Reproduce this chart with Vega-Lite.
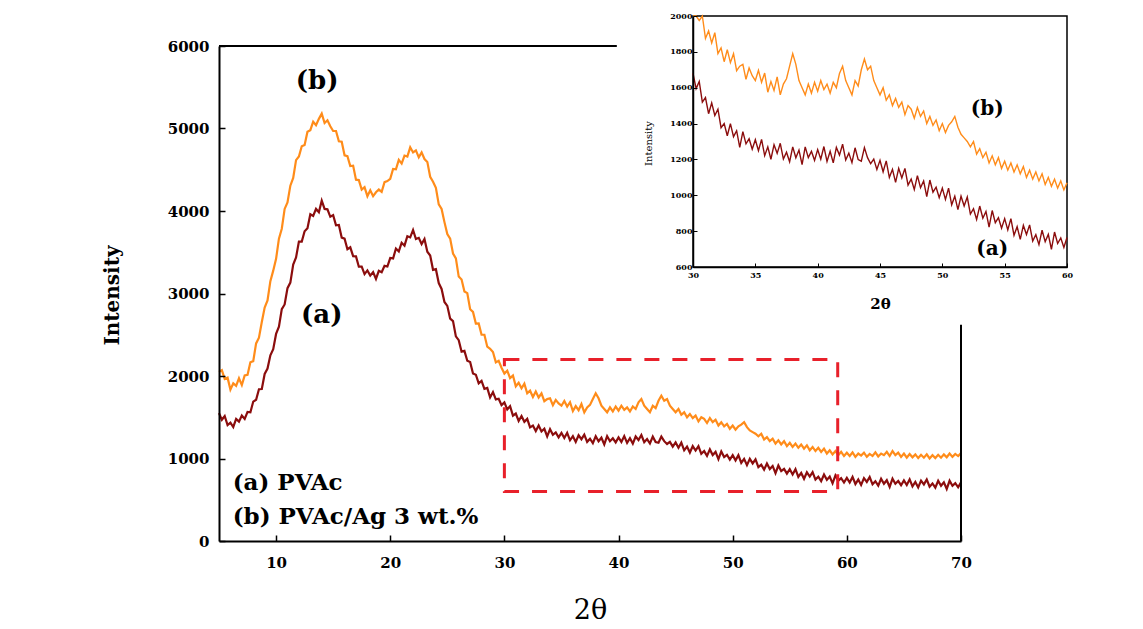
{
  "$schema": "https://vega.github.io/schema/vega-lite/v6.json",
  "width": 742,
  "height": 495,
  "autosize": {"type": "none"},
  "padding": {"left": 219, "top": 46, "right": 182, "bottom": 88},
  "background": "white",
  "config": {"view": {"stroke": null}, "font": "DejaVu Serif", "axis": {"grid": false, "labelOverlap": false, "labelFlush": false}},
  "datasets": {
    "xrd": [
      {"t":5,"a":1550,"b":2050},{"t":5.25,"a":1470,"b":2070},{"t":5.5,"a":1515,"b":1965},{"t":5.75,"a":1405,"b":1980},
      {"t":6,"a":1435,"b":1835},{"t":6.25,"a":1382,"b":1912},{"t":6.5,"a":1480,"b":1880},{"t":6.75,"a":1447,"b":1972},
      {"t":7,"a":1520,"b":1890},{"t":7.25,"a":1480,"b":2007},{"t":7.5,"a":1565,"b":2015},{"t":7.75,"a":1560,"b":2167},
      {"t":8,"a":1690,"b":2180},{"t":8.25,"a":1712,"b":2395},{"t":8.5,"a":1840,"b":2465},{"t":8.75,"a":1842,"b":2655},
      {"t":9,"a":2025,"b":2830},{"t":9.25,"a":2090,"b":2917},{"t":9.5,"a":2250,"b":3150},{"t":9.75,"a":2325,"b":3277},
      {"t":10,"a":2510,"b":3420},{"t":10.25,"a":2597,"b":3665},{"t":10.5,"a":2810,"b":3785},{"t":10.75,"a":2867,"b":4025},
      {"t":11,"a":3065,"b":4105},{"t":11.25,"a":3132,"b":4307},{"t":11.5,"a":3350,"b":4400},{"t":11.75,"a":3437,"b":4617},
      {"t":12,"a":3630,"b":4660},{"t":12.25,"a":3630,"b":4785},{"t":12.5,"a":3755,"b":4800},{"t":12.75,"a":3790,"b":4960},
      {"t":13,"a":3960,"b":4980},{"t":13.25,"a":3940,"b":5082},{"t":13.5,"a":4025,"b":5040},{"t":13.75,"a":3985,"b":5117},
      {"t":14,"a":4125,"b":5180},{"t":14.25,"a":4025,"b":5067},{"t":14.5,"a":4020,"b":5100},{"t":14.75,"a":3930,"b":5027},
      {"t":15,"a":3950,"b":4970},{"t":15.25,"a":3827,"b":4970},{"t":15.5,"a":3830,"b":4845},{"t":15.75,"a":3677,"b":4840},
      {"t":16,"a":3665,"b":4675},{"t":16.25,"a":3537,"b":4665},{"t":16.5,"a":3560,"b":4545},{"t":16.75,"a":3452,"b":4550},
      {"t":17,"a":3450,"b":4380},{"t":17.25,"a":3325,"b":4375},{"t":17.5,"a":3325,"b":4260},{"t":17.75,"a":3235,"b":4290},
      {"t":18,"a":3280,"b":4180},{"t":18.25,"a":3217,"b":4252},{"t":18.5,"a":3260,"b":4180},{"t":18.75,"a":3177,"b":4227},
      {"t":19,"a":3275,"b":4260},{"t":19.25,"a":3257,"b":4232},{"t":19.5,"a":3335,"b":4350},{"t":19.75,"a":3327,"b":4362},
      {"t":20,"a":3430,"b":4390},{"t":20.25,"a":3425,"b":4510},{"t":20.5,"a":3545,"b":4505},{"t":20.75,"a":3510,"b":4620},
      {"t":21,"a":3615,"b":4575},{"t":21.25,"a":3580,"b":4672},{"t":21.5,"a":3695,"b":4660},{"t":21.75,"a":3680,"b":4772},
      {"t":22,"a":3770,"b":4710},{"t":22.25,"a":3660,"b":4735},{"t":22.5,"a":3675,"b":4650},{"t":22.75,"a":3600,"b":4710},
      {"t":23,"a":3660,"b":4630},{"t":23.25,"a":3507,"b":4595},{"t":23.5,"a":3460,"b":4415},{"t":23.75,"a":3287,"b":4355},
      {"t":24,"a":3295,"b":4280},{"t":24.25,"a":3127,"b":4080},{"t":24.5,"a":3055,"b":4025},{"t":24.75,"a":2897,"b":3865},
      {"t":25,"a":2850,"b":3720},{"t":25.25,"a":2695,"b":3665},{"t":25.5,"a":2665,"b":3485},{"t":25.75,"a":2480,"b":3425},
      {"t":26,"a":2435,"b":3205},{"t":26.25,"a":2295,"b":3170},{"t":26.5,"a":2305,"b":3025},{"t":26.75,"a":2185,"b":3005},
      {"t":27,"a":2170,"b":2810},{"t":27.25,"a":2030,"b":2777},{"t":27.5,"a":2015,"b":2635},{"t":27.75,"a":1910,"b":2637},
      {"t":28,"a":1940,"b":2500},{"t":28.25,"a":1845,"b":2500},{"t":28.5,"a":1855,"b":2355},{"t":28.75,"a":1740,"b":2330},
      {"t":29,"a":1805,"b":2290},{"t":29.25,"a":1717,"b":2165},{"t":29.5,"a":1725,"b":2185},{"t":29.75,"a":1647,"b":2100},
      {"t":30,"a":1680,"b":2030},{"t":30.25,"a":1595,"b":2065},{"t":30.5,"a":1635,"b":1975},{"t":30.75,"a":1520,"b":2005},
      {"t":31,"a":1545,"b":1875},{"t":31.25,"a":1455,"b":1917},{"t":31.5,"a":1515,"b":1850},{"t":31.75,"a":1445,"b":1907},
      {"t":32,"a":1480,"b":1790},{"t":32.25,"a":1377,"b":1822},{"t":32.5,"a":1400,"b":1745},{"t":32.75,"a":1332,"b":1812},
      {"t":33,"a":1400,"b":1740},{"t":33.25,"a":1327,"b":1790},{"t":33.5,"a":1360,"b":1695},{"t":33.75,"a":1267,"b":1720},
      {"t":34,"a":1355,"b":1730},{"t":34.25,"a":1287,"b":1647},{"t":34.5,"a":1315,"b":1710},{"t":34.75,"a":1257,"b":1667},
      {"t":35,"a":1310,"b":1640},{"t":35.25,"a":1249,"b":1697},{"t":35.5,"a":1312,"b":1630},{"t":35.75,"a":1221,"b":1682},
      {"t":36,"a":1270,"b":1575},{"t":36.25,"a":1201,"b":1635},{"t":36.5,"a":1282,"b":1585},{"t":36.75,"a":1234,"b":1660},
      {"t":37,"a":1290,"b":1560},{"t":37.25,"a":1202,"b":1620},{"t":37.5,"a":1240,"b":1650},{"t":37.75,"a":1187,"b":1720},
      {"t":38,"a":1270,"b":1790},{"t":38.25,"a":1209,"b":1730},{"t":38.5,"a":1252,"b":1640},{"t":38.75,"a":1171,"b":1600},
      {"t":39,"a":1270,"b":1560},{"t":39.25,"a":1210,"b":1620},{"t":39.5,"a":1245,"b":1570},{"t":39.75,"a":1195,"b":1630},
      {"t":40,"a":1255,"b":1580},{"t":40.25,"a":1201,"b":1640},{"t":40.5,"a":1272,"b":1590},{"t":40.75,"a":1189,"b":1620},
      {"t":41,"a":1245,"b":1570},{"t":41.25,"a":1181,"b":1630},{"t":41.5,"a":1267,"b":1600},{"t":41.75,"a":1224,"b":1680},
      {"t":42,"a":1285,"b":1720},{"t":42.25,"a":1197,"b":1640},{"t":42.5,"a":1235,"b":1600},{"t":42.75,"a":1182,"b":1560},
      {"t":43,"a":1265,"b":1640},{"t":43.25,"a":1199,"b":1610},{"t":43.5,"a":1190,"b":1700},{"t":43.75,"a":1266,"b":1760},
      {"t":44,"a":1210,"b":1700},{"t":44.25,"a":1176,"b":1720},{"t":44.5,"a":1202,"b":1640},{"t":44.75,"a":1144,"b":1600},
      {"t":45,"a":1195,"b":1560},{"t":45.25,"a":1131,"b":1600},{"t":45.5,"a":1192,"b":1530},{"t":45.75,"a":1099,"b":1560},
      {"t":46,"a":1145,"b":1500},{"t":46.25,"a":1072,"b":1540},{"t":46.5,"a":1150,"b":1490},{"t":46.75,"a":1097,"b":1520},
      {"t":47,"a":1150,"b":1450},{"t":47.25,"a":1057,"b":1500},{"t":47.5,"a":1090,"b":1480},{"t":47.75,"a":1032,"b":1430},
      {"t":48,"a":1110,"b":1490},{"t":48.25,"a":1042,"b":1440},{"t":48.5,"a":1080,"b":1470},{"t":48.75,"a":992,"b":1400},
      {"t":49,"a":1085,"b":1440},{"t":49.25,"a":1017,"b":1390},{"t":49.5,"a":1045,"b":1420},{"t":49.75,"a":987,"b":1360},
      {"t":50,"a":1040,"b":1400},{"t":50.25,"a":977,"b":1350},{"t":50.5,"a":1040,"b":1390},{"t":50.75,"a":947,"b":1410},
      {"t":51,"a":995,"b":1440},{"t":51.25,"a":920,"b":1380},{"t":51.5,"a":995,"b":1340},{"t":51.75,"a":940,"b":1320},
      {"t":52,"a":990,"b":1300},{"t":52.25,"a":895,"b":1270},{"t":52.5,"a":925,"b":1300},{"t":52.75,"a":865,"b":1230},
      {"t":53,"a":940,"b":1260},{"t":53.25,"a":872,"b":1210},{"t":53.5,"a":910,"b":1240},{"t":53.75,"a":822,"b":1180},
      {"t":54,"a":915,"b":1220},{"t":54.25,"a":847,"b":1170},{"t":54.5,"a":875,"b":1210},{"t":54.75,"a":817,"b":1150},
      {"t":55,"a":870,"b":1190},{"t":55.25,"a":807,"b":1140},{"t":55.5,"a":870,"b":1180},{"t":55.75,"a":777,"b":1130},
      {"t":56,"a":825,"b":1170},{"t":56.25,"a":754,"b":1120},{"t":56.5,"a":832,"b":1160},{"t":56.75,"a":781,"b":1100},
      {"t":57,"a":835,"b":1140},{"t":57.25,"a":745,"b":1090},{"t":57.5,"a":780,"b":1130},{"t":57.75,"a":725,"b":1080},
      {"t":58,"a":805,"b":1120},{"t":58.25,"a":741,"b":1060},{"t":58.5,"a":782,"b":1100},{"t":58.75,"a":699,"b":1050},
      {"t":59,"a":795,"b":1090},{"t":59.25,"a":731,"b":1040},{"t":59.5,"a":762,"b":1080},{"t":59.75,"a":709,"b":1030},
      {"t":60,"a":765,"b":1070},{"t":60.25,"a":709,"b":1030},{"t":60.5,"a":777,"b":1075},{"t":60.75,"a":691,"b":1020},
      {"t":61,"a":745,"b":1060},{"t":61.25,"a":679,"b":1035},{"t":61.5,"a":762,"b":1070},{"t":61.75,"a":716,"b":1020},
      {"t":62,"a":775,"b":1055},{"t":62.25,"a":687,"b":1030},{"t":62.5,"a":725,"b":1075},{"t":62.75,"a":672,"b":1025},
      {"t":63,"a":755,"b":1060},{"t":63.25,"a":694,"b":1040},{"t":63.5,"a":737,"b":1080},{"t":63.75,"a":656,"b":1030},
      {"t":64,"a":755,"b":1090},{"t":64.25,"a":694,"b":1040},{"t":64.5,"a":727,"b":1070},{"t":64.75,"a":676,"b":1020},
      {"t":65,"a":735,"b":1060},{"t":65.25,"a":679,"b":1010},{"t":65.5,"a":747,"b":1055},{"t":65.75,"a":661,"b":1015},
      {"t":66,"a":715,"b":1050},{"t":66.25,"a":649,"b":1005},{"t":66.5,"a":732,"b":1045},{"t":66.75,"a":686,"b":1010},
      {"t":67,"a":745,"b":1050},{"t":67.25,"a":659,"b":1000},{"t":67.5,"a":697,"b":1040},{"t":67.75,"a":646,"b":1005},
      {"t":68,"a":730,"b":1045},{"t":68.25,"a":669,"b":1010},{"t":68.5,"a":712,"b":1050},{"t":68.75,"a":631,"b":1015},
      {"t":69,"a":730,"b":1060},{"t":69.25,"a":669,"b":1020},{"t":69.5,"a":702,"b":1055},{"t":69.75,"a":651,"b":1030},
      {"t":70,"a":710,"b":1065}
    ]
  },
  "resolve": {"scale": {"x": "independent", "y": "independent"}},
  "layer": [
    {
      "layer": [
        {
          "data": {"name": "xrd"},
          "transform": [{"fold": ["a", "b"], "as": ["s", "v"]}],
          "mark": {"type": "line", "strokeWidth": 2.2},
          "encoding": {
            "x": {"field": "t", "type": "quantitative", "title": "2θ",
              "scale": {"domain": [5, 70], "nice": false, "zero": false},
              "axis": {"orient": "bottom", "values": [10, 20, 30, 40, 50, 60, 70], "format": "d",
                "domainColor": "black", "domainWidth": 2, "tickColor": "black", "tickWidth": 1.5, "tickSize": -6,
                "labelFont": "DejaVu Serif", "labelFontWeight": "bold", "labelFontSize": 15, "labelColor": "black",
                "labelPadding": 20, "titleFont": "DejaVu Serif", "titleFontSize": 27, "titleFontWeight": "normal",
                "titleColor": "black", "titleY": 69, "titleBaseline": "middle", "zindex": 1}},
            "y": {"field": "v", "type": "quantitative", "title": "Intensity",
              "scale": {"domain": [0, 6000], "nice": false, "zero": false},
              "axis": {"orient": "left", "values": [0, 1000, 2000, 3000, 4000, 5000, 6000], "format": "d",
                "domainColor": "black", "domainWidth": 2, "tickColor": "black", "tickWidth": 1.5, "tickSize": -6,
                "labelFont": "DejaVu Serif", "labelFontWeight": "bold", "labelFontSize": 15, "labelColor": "black",
                "labelPadding": 16, "titleFont": "DejaVu Serif", "titleFontSize": 20, "titleFontWeight": "bold",
                "titleColor": "black", "titleX": -107, "titleY": 249, "titleAngle": -90, "titleAlign": "center",
                "titleBaseline": "middle", "zindex": 1}},
            "color": {"field": "s", "type": "nominal", "scale": {"domain": ["a", "b"], "range": ["#8b0d0d", "#ff8c1a"]}, "legend": null}
          }
        },
        {
          "data": {"values": [{}]},
          "mark": {"type": "rule", "color": "black", "strokeWidth": 2},
          "encoding": {"x": {"datum": 5}, "x2": {"datum": 39.85}, "y": {"datum": 6000}}
        },
        {
          "data": {"values": [{}]},
          "mark": {"type": "rule", "color": "black", "strokeWidth": 2},
          "encoding": {"x": {"datum": 70}, "y": {"datum": 0}, "y2": {"datum": 2620}}
        },
        {
          "data": {"values": [{}]},
          "mark": {"type": "rect", "fill": "transparent", "stroke": "#e8202a", "strokeWidth": 3, "strokeDash": [15, 13]},
          "encoding": {"x": {"datum": 30}, "x2": {"datum": 59.2}, "y": {"datum": 600}, "y2": {"datum": 2200}}
        },
        {
          "data": {"values": [{}]},
          "mark": {"type": "text", "text": "(b)", "font": "DejaVu Serif", "fontWeight": "bold", "fontSize": 26, "color": "black", "baseline": "middle", "align": "center"},
          "encoding": {"x": {"datum": 13.6}, "y": {"datum": 5580}}
        },
        {
          "data": {"values": [{}]},
          "mark": {"type": "text", "text": "(a)", "font": "DejaVu Serif", "fontWeight": "bold", "fontSize": 26, "color": "black", "baseline": "middle", "align": "center"},
          "encoding": {"x": {"datum": 14.0}, "y": {"datum": 2739}}
        },
        {
          "data": {"values": [{}]},
          "mark": {"type": "text", "text": "(a) PVAc", "font": "DejaVu Serif", "fontWeight": "bold", "fontSize": 23, "color": "black", "baseline": "middle", "align": "left"},
          "encoding": {"x": {"datum": 6.2}, "y": {"datum": 707}}
        },
        {
          "data": {"values": [{}]},
          "mark": {"type": "text", "text": "(b) PVAc/Ag 3 wt.%", "font": "DejaVu Serif", "fontWeight": "bold", "fontSize": 23, "color": "black", "baseline": "middle", "align": "left"},
          "encoding": {"x": {"datum": 6.2}, "y": {"datum": 295}}
        }
      ]
    },
    {
      "layer": [
        {
          "data": {"values": [{}]},
          "mark": {"type": "rect", "fill": "white", "stroke": "black", "strokeWidth": 1.5},
          "encoding": {"x": {"datum": 30}, "x2": {"datum": 60}, "y": {"datum": 600}, "y2": {"datum": 2000}}
        },
        {
          "data": {"name": "xrd"},
          "transform": [{"filter": "datum.t >= 30 && datum.t <= 60"}, {"fold": ["a", "b"], "as": ["s", "v"]}],
          "mark": {"type": "line", "strokeWidth": 1.4},
          "encoding": {
            "x": {"field": "t", "type": "quantitative", "title": "2θ",
              "scale": {"domain": [30, 60], "range": [474, 848], "nice": false, "zero": false},
              "axis": {"orient": "bottom", "offset": -274, "values": [30, 35, 40, 45, 50, 55, 60], "format": "d",
                "domainColor": "black", "domainWidth": 1.5, "tickColor": "black", "tickWidth": 1, "tickSize": -4,
                "labelFont": "DejaVu Serif", "labelFontWeight": "bold", "labelFontSize": 8, "labelColor": "black",
                "labelPadding": 8, "titleFont": "DejaVu Serif", "titleFontSize": 15, "titleFontWeight": "bold",
                "titleColor": "black", "titleY": 36, "titleBaseline": "middle", "zindex": 2}},
            "y": {"field": "v", "type": "quantitative", "title": "Intensity",
              "scale": {"domain": [600, 2000], "range": [221, -30], "nice": false, "zero": false, "clamp": true},
              "axis": {"orient": "left", "offset": -474, "values": [600, 800, 1000, 1200, 1400, 1600, 1800, 2000], "format": "d",
                "domainColor": "black", "domainWidth": 1.5, "tickColor": "black", "tickWidth": 1, "tickSize": -4,
                "labelFont": "DejaVu Serif", "labelFontWeight": "bold", "labelFontSize": 8, "labelColor": "black",
                "labelPadding": 5, "titleFont": "DejaVu Serif", "titleFontSize": 10, "titleFontWeight": "normal",
                "titleColor": "black", "titleX": -45, "titleY": 97, "titleAngle": -90, "titleAlign": "center",
                "titleBaseline": "middle", "zindex": 2}},
            "color": {"field": "s", "type": "nominal", "scale": {"domain": ["a", "b"], "range": ["#8b0d0d", "#ff8c1a"]}, "legend": null}
          }
        },
        {
          "data": {"values": [{}]},
          "mark": {"type": "text", "text": "(b)", "font": "DejaVu Serif", "fontWeight": "bold", "fontSize": 20, "color": "black", "baseline": "middle", "align": "center"},
          "encoding": {"x": {"datum": 53.6}, "y": {"datum": 1480}}
        },
        {
          "data": {"values": [{}]},
          "mark": {"type": "text", "text": "(a)", "font": "DejaVu Serif", "fontWeight": "bold", "fontSize": 20, "color": "black", "baseline": "middle", "align": "center"},
          "encoding": {"x": {"datum": 54.0}, "y": {"datum": 699}}
        }
      ]
    }
  ]
}
